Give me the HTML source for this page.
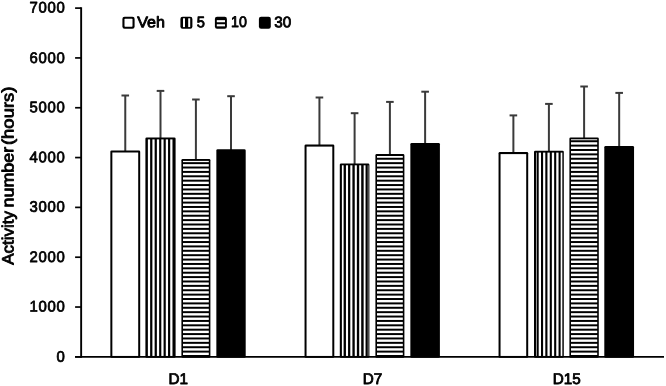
<!DOCTYPE html>
<html lang="en"><head><meta charset="utf-8"><title>Activity number (hours)</title>
<style>html,body{margin:0;padding:0;background:#fff}body{width:666px;height:386px;overflow:hidden}svg{display:block}text{text-rendering:geometricPrecision;font-family:"Liberation Sans",sans-serif;fill:#000}</style>
</head><body>
<svg width="666" height="386" viewBox="0 0 666 386">
<rect width="666" height="386" fill="#fff"/>
<line x1="75.1" y1="356.85" x2="81.15" y2="356.85" stroke="#000" stroke-width="1.7"/>
<text transform="translate(65.68,361.86) rotate(0.03) scale(0.975,1)" font-size="15.3" text-anchor="end" stroke="#000" stroke-width="0.75" stroke-linejoin="round" letter-spacing="0.8">0</text>
<line x1="75.1" y1="307.03" x2="81.15" y2="307.03" stroke="#000" stroke-width="1.7"/>
<text transform="translate(65.68,311.60) rotate(0.03) scale(0.975,1)" font-size="15.3" text-anchor="end" stroke="#000" stroke-width="0.75" stroke-linejoin="round" letter-spacing="0.8">1000</text>
<line x1="75.1" y1="257.21" x2="81.15" y2="257.21" stroke="#000" stroke-width="1.7"/>
<text transform="translate(65.68,261.91) rotate(0.03) scale(0.975,1)" font-size="15.3" text-anchor="end" stroke="#000" stroke-width="0.75" stroke-linejoin="round" letter-spacing="0.8">2000</text>
<line x1="75.1" y1="207.39" x2="81.15" y2="207.39" stroke="#000" stroke-width="1.7"/>
<text transform="translate(65.68,211.65) rotate(0.03) scale(0.975,1)" font-size="15.3" text-anchor="end" stroke="#000" stroke-width="0.75" stroke-linejoin="round" letter-spacing="0.8">3000</text>
<line x1="75.1" y1="157.57" x2="81.15" y2="157.57" stroke="#000" stroke-width="1.7"/>
<text transform="translate(65.68,162.27) rotate(0.03) scale(0.975,1)" font-size="15.3" text-anchor="end" stroke="#000" stroke-width="0.75" stroke-linejoin="round" letter-spacing="0.8">4000</text>
<line x1="75.1" y1="107.75" x2="81.15" y2="107.75" stroke="#000" stroke-width="1.7"/>
<text transform="translate(65.68,112.32) rotate(0.03) scale(0.975,1)" font-size="15.3" text-anchor="end" stroke="#000" stroke-width="0.75" stroke-linejoin="round" letter-spacing="0.8">5000</text>
<line x1="75.1" y1="57.93" x2="81.15" y2="57.93" stroke="#000" stroke-width="1.7"/>
<text transform="translate(65.68,62.94) rotate(0.03) scale(0.975,1)" font-size="15.3" text-anchor="end" stroke="#000" stroke-width="0.75" stroke-linejoin="round" letter-spacing="0.8">6000</text>
<line x1="75.1" y1="8.11" x2="81.15" y2="8.11" stroke="#000" stroke-width="1.7"/>
<text transform="translate(65.68,12.49) rotate(0.03) scale(0.975,1)" font-size="15.3" text-anchor="end" stroke="#000" stroke-width="0.75" stroke-linejoin="round" letter-spacing="0.8">7000</text>
<line x1="125.27" y1="95.50" x2="125.27" y2="151.40" stroke="#3a3a3a" stroke-width="2.0"/>
<line x1="121.47" y1="95.50" x2="129.07" y2="95.50" stroke="#3a3a3a" stroke-width="2.0"/>
<rect x="110.35" y="150.40" width="29.85" height="207.35" rx="1.3" fill="#000"/>
<rect x="112.35" y="152.50" width="25.85" height="203.45" fill="#fff"/>
<line x1="160.50" y1="90.90" x2="160.50" y2="138.50" stroke="#3a3a3a" stroke-width="2.0"/>
<line x1="156.70" y1="90.90" x2="164.30" y2="90.90" stroke="#3a3a3a" stroke-width="2.0"/>
<rect x="145.40" y="137.50" width="30.20" height="220.25" rx="1.3" fill="#000"/>
<rect x="147.88" y="139.40" width="2.25" height="216.55" fill="#fff"/>
<rect x="152.38" y="139.40" width="2.25" height="216.55" fill="#fff"/>
<rect x="156.88" y="139.40" width="2.25" height="216.55" fill="#fff"/>
<rect x="161.32" y="139.40" width="2.25" height="216.55" fill="#fff"/>
<rect x="165.78" y="139.40" width="2.25" height="216.55" fill="#fff"/>
<rect x="170.22" y="139.40" width="2.25" height="216.55" fill="#fff"/>
<line x1="195.90" y1="99.50" x2="195.90" y2="160.00" stroke="#3a3a3a" stroke-width="2.0"/>
<line x1="192.10" y1="99.50" x2="199.70" y2="99.50" stroke="#3a3a3a" stroke-width="2.0"/>
<rect x="181.40" y="159.00" width="29.00" height="198.75" rx="1.3" fill="#000"/>
<rect x="183.00" y="352.60" width="25.80" height="2.40" fill="#fff"/>
<rect x="183.00" y="348.22" width="25.80" height="2.40" fill="#fff"/>
<rect x="183.00" y="343.83" width="25.80" height="2.40" fill="#fff"/>
<rect x="183.00" y="339.45" width="25.80" height="2.40" fill="#fff"/>
<rect x="183.00" y="335.07" width="25.80" height="2.40" fill="#fff"/>
<rect x="183.00" y="330.69" width="25.80" height="2.40" fill="#fff"/>
<rect x="183.00" y="326.30" width="25.80" height="2.40" fill="#fff"/>
<rect x="183.00" y="321.92" width="25.80" height="2.40" fill="#fff"/>
<rect x="183.00" y="317.54" width="25.80" height="2.40" fill="#fff"/>
<rect x="183.00" y="313.15" width="25.80" height="2.40" fill="#fff"/>
<rect x="183.00" y="308.77" width="25.80" height="2.40" fill="#fff"/>
<rect x="183.00" y="304.39" width="25.80" height="2.40" fill="#fff"/>
<rect x="183.00" y="300.00" width="25.80" height="2.40" fill="#fff"/>
<rect x="183.00" y="295.62" width="25.80" height="2.40" fill="#fff"/>
<rect x="183.00" y="291.24" width="25.80" height="2.40" fill="#fff"/>
<rect x="183.00" y="286.86" width="25.80" height="2.40" fill="#fff"/>
<rect x="183.00" y="282.47" width="25.80" height="2.40" fill="#fff"/>
<rect x="183.00" y="278.09" width="25.80" height="2.40" fill="#fff"/>
<rect x="183.00" y="273.71" width="25.80" height="2.40" fill="#fff"/>
<rect x="183.00" y="269.32" width="25.80" height="2.40" fill="#fff"/>
<rect x="183.00" y="264.94" width="25.80" height="2.40" fill="#fff"/>
<rect x="183.00" y="260.56" width="25.80" height="2.40" fill="#fff"/>
<rect x="183.00" y="256.17" width="25.80" height="2.40" fill="#fff"/>
<rect x="183.00" y="251.79" width="25.80" height="2.40" fill="#fff"/>
<rect x="183.00" y="247.41" width="25.80" height="2.40" fill="#fff"/>
<rect x="183.00" y="243.03" width="25.80" height="2.40" fill="#fff"/>
<rect x="183.00" y="238.64" width="25.80" height="2.40" fill="#fff"/>
<rect x="183.00" y="234.26" width="25.80" height="2.40" fill="#fff"/>
<rect x="183.00" y="229.88" width="25.80" height="2.40" fill="#fff"/>
<rect x="183.00" y="225.49" width="25.80" height="2.40" fill="#fff"/>
<rect x="183.00" y="221.11" width="25.80" height="2.40" fill="#fff"/>
<rect x="183.00" y="216.73" width="25.80" height="2.40" fill="#fff"/>
<rect x="183.00" y="212.34" width="25.80" height="2.40" fill="#fff"/>
<rect x="183.00" y="207.96" width="25.80" height="2.40" fill="#fff"/>
<rect x="183.00" y="203.58" width="25.80" height="2.40" fill="#fff"/>
<rect x="183.00" y="199.20" width="25.80" height="2.40" fill="#fff"/>
<rect x="183.00" y="194.81" width="25.80" height="2.40" fill="#fff"/>
<rect x="183.00" y="190.43" width="25.80" height="2.40" fill="#fff"/>
<rect x="183.00" y="186.05" width="25.80" height="2.40" fill="#fff"/>
<rect x="183.00" y="181.66" width="25.80" height="2.40" fill="#fff"/>
<rect x="183.00" y="177.28" width="25.80" height="2.40" fill="#fff"/>
<rect x="183.00" y="172.90" width="25.80" height="2.40" fill="#fff"/>
<rect x="183.00" y="168.51" width="25.80" height="2.40" fill="#fff"/>
<rect x="183.00" y="164.13" width="25.80" height="2.40" fill="#fff"/>
<rect x="183.00" y="160.90" width="25.80" height="1.25" fill="#fff"/>
<line x1="231.02" y1="96.20" x2="231.02" y2="150.20" stroke="#3a3a3a" stroke-width="2.0"/>
<line x1="227.22" y1="96.20" x2="234.82" y2="96.20" stroke="#3a3a3a" stroke-width="2.0"/>
<rect x="216.35" y="149.20" width="29.35" height="208.55" rx="1.3" fill="#000"/>
<line x1="319.43" y1="97.50" x2="319.43" y2="145.50" stroke="#3a3a3a" stroke-width="2.0"/>
<line x1="315.62" y1="97.50" x2="323.23" y2="97.50" stroke="#3a3a3a" stroke-width="2.0"/>
<rect x="304.55" y="144.50" width="29.75" height="213.25" rx="1.3" fill="#000"/>
<rect x="306.55" y="146.60" width="25.75" height="209.35" fill="#fff"/>
<line x1="354.60" y1="113.20" x2="354.60" y2="164.40" stroke="#3a3a3a" stroke-width="2.0"/>
<line x1="350.80" y1="113.20" x2="358.40" y2="113.20" stroke="#3a3a3a" stroke-width="2.0"/>
<rect x="339.80" y="163.40" width="29.60" height="194.35" rx="1.3" fill="#000"/>
<rect x="341.90" y="165.30" width="1.70" height="190.65" fill="#fff"/>
<rect x="345.95" y="165.30" width="2.10" height="190.65" fill="#fff"/>
<rect x="350.30" y="165.30" width="2.10" height="190.65" fill="#fff"/>
<rect x="354.75" y="165.30" width="2.10" height="190.65" fill="#fff"/>
<rect x="359.20" y="165.30" width="2.00" height="190.65" fill="#fff"/>
<rect x="363.65" y="165.30" width="1.90" height="190.65" fill="#fff"/>
<rect x="367.80" y="165.30" width="0.50" height="190.65" fill="#fff"/>
<line x1="389.90" y1="101.90" x2="389.90" y2="155.10" stroke="#3a3a3a" stroke-width="2.0"/>
<line x1="386.10" y1="101.90" x2="393.70" y2="101.90" stroke="#3a3a3a" stroke-width="2.0"/>
<rect x="375.40" y="154.10" width="29.00" height="203.65" rx="1.3" fill="#000"/>
<rect x="377.00" y="352.60" width="25.80" height="2.40" fill="#fff"/>
<rect x="377.00" y="348.22" width="25.80" height="2.40" fill="#fff"/>
<rect x="377.00" y="343.83" width="25.80" height="2.40" fill="#fff"/>
<rect x="377.00" y="339.45" width="25.80" height="2.40" fill="#fff"/>
<rect x="377.00" y="335.07" width="25.80" height="2.40" fill="#fff"/>
<rect x="377.00" y="330.69" width="25.80" height="2.40" fill="#fff"/>
<rect x="377.00" y="326.30" width="25.80" height="2.40" fill="#fff"/>
<rect x="377.00" y="321.92" width="25.80" height="2.40" fill="#fff"/>
<rect x="377.00" y="317.54" width="25.80" height="2.40" fill="#fff"/>
<rect x="377.00" y="313.15" width="25.80" height="2.40" fill="#fff"/>
<rect x="377.00" y="308.77" width="25.80" height="2.40" fill="#fff"/>
<rect x="377.00" y="304.39" width="25.80" height="2.40" fill="#fff"/>
<rect x="377.00" y="300.00" width="25.80" height="2.40" fill="#fff"/>
<rect x="377.00" y="295.62" width="25.80" height="2.40" fill="#fff"/>
<rect x="377.00" y="291.24" width="25.80" height="2.40" fill="#fff"/>
<rect x="377.00" y="286.86" width="25.80" height="2.40" fill="#fff"/>
<rect x="377.00" y="282.47" width="25.80" height="2.40" fill="#fff"/>
<rect x="377.00" y="278.09" width="25.80" height="2.40" fill="#fff"/>
<rect x="377.00" y="273.71" width="25.80" height="2.40" fill="#fff"/>
<rect x="377.00" y="269.32" width="25.80" height="2.40" fill="#fff"/>
<rect x="377.00" y="264.94" width="25.80" height="2.40" fill="#fff"/>
<rect x="377.00" y="260.56" width="25.80" height="2.40" fill="#fff"/>
<rect x="377.00" y="256.17" width="25.80" height="2.40" fill="#fff"/>
<rect x="377.00" y="251.79" width="25.80" height="2.40" fill="#fff"/>
<rect x="377.00" y="247.41" width="25.80" height="2.40" fill="#fff"/>
<rect x="377.00" y="243.03" width="25.80" height="2.40" fill="#fff"/>
<rect x="377.00" y="238.64" width="25.80" height="2.40" fill="#fff"/>
<rect x="377.00" y="234.26" width="25.80" height="2.40" fill="#fff"/>
<rect x="377.00" y="229.88" width="25.80" height="2.40" fill="#fff"/>
<rect x="377.00" y="225.49" width="25.80" height="2.40" fill="#fff"/>
<rect x="377.00" y="221.11" width="25.80" height="2.40" fill="#fff"/>
<rect x="377.00" y="216.73" width="25.80" height="2.40" fill="#fff"/>
<rect x="377.00" y="212.34" width="25.80" height="2.40" fill="#fff"/>
<rect x="377.00" y="207.96" width="25.80" height="2.40" fill="#fff"/>
<rect x="377.00" y="203.58" width="25.80" height="2.40" fill="#fff"/>
<rect x="377.00" y="199.20" width="25.80" height="2.40" fill="#fff"/>
<rect x="377.00" y="194.81" width="25.80" height="2.40" fill="#fff"/>
<rect x="377.00" y="190.43" width="25.80" height="2.40" fill="#fff"/>
<rect x="377.00" y="186.05" width="25.80" height="2.40" fill="#fff"/>
<rect x="377.00" y="181.66" width="25.80" height="2.40" fill="#fff"/>
<rect x="377.00" y="177.28" width="25.80" height="2.40" fill="#fff"/>
<rect x="377.00" y="172.90" width="25.80" height="2.40" fill="#fff"/>
<rect x="377.00" y="168.51" width="25.80" height="2.40" fill="#fff"/>
<rect x="377.00" y="164.13" width="25.80" height="2.40" fill="#fff"/>
<rect x="377.00" y="159.75" width="25.80" height="2.40" fill="#fff"/>
<rect x="377.00" y="156.00" width="25.80" height="1.76" fill="#fff"/>
<line x1="425.12" y1="91.70" x2="425.12" y2="144.00" stroke="#3a3a3a" stroke-width="2.0"/>
<line x1="421.32" y1="91.70" x2="428.93" y2="91.70" stroke="#3a3a3a" stroke-width="2.0"/>
<rect x="410.35" y="143.00" width="29.55" height="214.75" rx="1.3" fill="#000"/>
<line x1="513.38" y1="115.40" x2="513.38" y2="153.00" stroke="#3a3a3a" stroke-width="2.0"/>
<line x1="509.57" y1="115.40" x2="517.17" y2="115.40" stroke="#3a3a3a" stroke-width="2.0"/>
<rect x="498.55" y="152.00" width="29.65" height="205.75" rx="1.3" fill="#000"/>
<rect x="500.55" y="154.10" width="25.65" height="201.85" fill="#fff"/>
<line x1="548.90" y1="103.90" x2="548.90" y2="151.70" stroke="#3a3a3a" stroke-width="2.0"/>
<line x1="545.10" y1="103.90" x2="552.70" y2="103.90" stroke="#3a3a3a" stroke-width="2.0"/>
<rect x="534.00" y="150.70" width="29.80" height="207.05" rx="1.3" fill="#000"/>
<rect x="536.05" y="152.60" width="0.60" height="203.35" fill="#fff"/>
<rect x="538.70" y="152.60" width="2.30" height="203.35" fill="#fff"/>
<rect x="543.10" y="152.60" width="2.20" height="203.35" fill="#fff"/>
<rect x="547.45" y="152.60" width="2.30" height="203.35" fill="#fff"/>
<rect x="551.85" y="152.60" width="2.30" height="203.35" fill="#fff"/>
<rect x="556.25" y="152.60" width="2.30" height="203.35" fill="#fff"/>
<rect x="560.65" y="152.60" width="1.70" height="203.35" fill="#fff"/>
<line x1="584.10" y1="86.50" x2="584.10" y2="138.40" stroke="#3a3a3a" stroke-width="2.0"/>
<line x1="580.30" y1="86.50" x2="587.90" y2="86.50" stroke="#3a3a3a" stroke-width="2.0"/>
<rect x="569.40" y="137.40" width="29.40" height="220.35" rx="1.3" fill="#000"/>
<rect x="571.00" y="352.60" width="26.20" height="2.40" fill="#fff"/>
<rect x="571.00" y="348.22" width="26.20" height="2.40" fill="#fff"/>
<rect x="571.00" y="343.83" width="26.20" height="2.40" fill="#fff"/>
<rect x="571.00" y="339.45" width="26.20" height="2.40" fill="#fff"/>
<rect x="571.00" y="335.07" width="26.20" height="2.40" fill="#fff"/>
<rect x="571.00" y="330.69" width="26.20" height="2.40" fill="#fff"/>
<rect x="571.00" y="326.30" width="26.20" height="2.40" fill="#fff"/>
<rect x="571.00" y="321.92" width="26.20" height="2.40" fill="#fff"/>
<rect x="571.00" y="317.54" width="26.20" height="2.40" fill="#fff"/>
<rect x="571.00" y="313.15" width="26.20" height="2.40" fill="#fff"/>
<rect x="571.00" y="308.77" width="26.20" height="2.40" fill="#fff"/>
<rect x="571.00" y="304.39" width="26.20" height="2.40" fill="#fff"/>
<rect x="571.00" y="300.00" width="26.20" height="2.40" fill="#fff"/>
<rect x="571.00" y="295.62" width="26.20" height="2.40" fill="#fff"/>
<rect x="571.00" y="291.24" width="26.20" height="2.40" fill="#fff"/>
<rect x="571.00" y="286.86" width="26.20" height="2.40" fill="#fff"/>
<rect x="571.00" y="282.47" width="26.20" height="2.40" fill="#fff"/>
<rect x="571.00" y="278.09" width="26.20" height="2.40" fill="#fff"/>
<rect x="571.00" y="273.71" width="26.20" height="2.40" fill="#fff"/>
<rect x="571.00" y="269.32" width="26.20" height="2.40" fill="#fff"/>
<rect x="571.00" y="264.94" width="26.20" height="2.40" fill="#fff"/>
<rect x="571.00" y="260.56" width="26.20" height="2.40" fill="#fff"/>
<rect x="571.00" y="256.17" width="26.20" height="2.40" fill="#fff"/>
<rect x="571.00" y="251.79" width="26.20" height="2.40" fill="#fff"/>
<rect x="571.00" y="247.41" width="26.20" height="2.40" fill="#fff"/>
<rect x="571.00" y="243.03" width="26.20" height="2.40" fill="#fff"/>
<rect x="571.00" y="238.64" width="26.20" height="2.40" fill="#fff"/>
<rect x="571.00" y="234.26" width="26.20" height="2.40" fill="#fff"/>
<rect x="571.00" y="229.88" width="26.20" height="2.40" fill="#fff"/>
<rect x="571.00" y="225.49" width="26.20" height="2.40" fill="#fff"/>
<rect x="571.00" y="221.11" width="26.20" height="2.40" fill="#fff"/>
<rect x="571.00" y="216.73" width="26.20" height="2.40" fill="#fff"/>
<rect x="571.00" y="212.34" width="26.20" height="2.40" fill="#fff"/>
<rect x="571.00" y="207.96" width="26.20" height="2.40" fill="#fff"/>
<rect x="571.00" y="203.58" width="26.20" height="2.40" fill="#fff"/>
<rect x="571.00" y="199.20" width="26.20" height="2.40" fill="#fff"/>
<rect x="571.00" y="194.81" width="26.20" height="2.40" fill="#fff"/>
<rect x="571.00" y="190.43" width="26.20" height="2.40" fill="#fff"/>
<rect x="571.00" y="186.05" width="26.20" height="2.40" fill="#fff"/>
<rect x="571.00" y="181.66" width="26.20" height="2.40" fill="#fff"/>
<rect x="571.00" y="177.28" width="26.20" height="2.40" fill="#fff"/>
<rect x="571.00" y="172.90" width="26.20" height="2.40" fill="#fff"/>
<rect x="571.00" y="168.51" width="26.20" height="2.40" fill="#fff"/>
<rect x="571.00" y="164.13" width="26.20" height="2.40" fill="#fff"/>
<rect x="571.00" y="159.75" width="26.20" height="2.40" fill="#fff"/>
<rect x="571.00" y="155.37" width="26.20" height="2.40" fill="#fff"/>
<rect x="571.00" y="150.98" width="26.20" height="2.40" fill="#fff"/>
<rect x="571.00" y="146.60" width="26.20" height="2.40" fill="#fff"/>
<rect x="571.00" y="142.22" width="26.20" height="2.40" fill="#fff"/>
<rect x="571.00" y="139.30" width="26.20" height="0.93" fill="#fff"/>
<line x1="619.17" y1="92.90" x2="619.17" y2="147.00" stroke="#3a3a3a" stroke-width="2.0"/>
<line x1="615.38" y1="92.90" x2="622.97" y2="92.90" stroke="#3a3a3a" stroke-width="2.0"/>
<rect x="604.30" y="146.00" width="29.75" height="211.75" rx="1.3" fill="#000"/>
<line x1="81.15" y1="7.25" x2="81.15" y2="357.75" stroke="#000" stroke-width="1.9"/>
<line x1="75.1" y1="356.85" x2="664" y2="356.85" stroke="#000" stroke-width="1.9"/>
<text transform="translate(178.25,383.95) rotate(0.03) scale(0.99,1)" font-size="15.4" text-anchor="middle" stroke="#000" stroke-width="0.85" stroke-linejoin="round">D1</text>
<text transform="translate(372.4,383.95) rotate(0.03) scale(0.99,1)" font-size="15.4" text-anchor="middle" stroke="#000" stroke-width="0.85" stroke-linejoin="round">D7</text>
<text transform="translate(566.7,383.95) rotate(0.03) scale(0.99,1)" font-size="15.4" text-anchor="middle" stroke="#000" stroke-width="0.85" stroke-linejoin="round">D15</text>
<text transform="translate(13.4,264.84) rotate(-90.03) scale(1.0371,1)" font-size="16.4" stroke="#000" stroke-width="0.85" stroke-linejoin="round">Activity</text>
<text transform="translate(13.4,207.42) rotate(-90.03) scale(1.0906,1)" font-size="16.4" stroke="#000" stroke-width="0.85" stroke-linejoin="round">number</text>
<text transform="translate(13.4,145.04) rotate(-90.03) scale(1.1256,1)" font-size="16.4" stroke="#000" stroke-width="0.85" stroke-linejoin="round">(hours)</text>
<rect x="122.40" y="16.7" width="12.20" height="12.10" rx="2.2" fill="#000"/>
<rect x="124.50" y="18.8" width="8.00" height="7.90" rx="0.6" fill="#fff"/>
<rect x="180.40" y="16.7" width="12.00" height="12.10" rx="2.2" fill="#000"/>
<rect x="183.00" y="18.3" width="2.0" height="8.8" fill="#fff"/>
<rect x="188.20" y="18.3" width="2.0" height="8.8" fill="#fff"/>
<rect x="214.90" y="16.7" width="12.00" height="12.10" rx="2.2" fill="#000"/>
<rect x="216.80" y="20.15" width="8.20" height="2.1" fill="#fff"/>
<rect x="216.80" y="24.25" width="8.20" height="2.1" fill="#fff"/>
<rect x="258.90" y="16.7" width="11.90" height="12.10" rx="2.2" fill="#000"/>
<text transform="translate(137.2,27.35) rotate(0.03) scale(1.05,1)" font-size="15.3" text-anchor="start" stroke="#000" stroke-width="0.85" stroke-linejoin="round">Veh</text>
<text transform="translate(196.7,27.35) rotate(0.03) scale(0.96,1)" font-size="15.3" text-anchor="start" stroke="#000" stroke-width="0.85" stroke-linejoin="round">5</text>
<text transform="translate(231.0,27.35) rotate(0.03) scale(0.93,1)" font-size="15.3" text-anchor="start" stroke="#000" stroke-width="0.85" stroke-linejoin="round">10</text>
<text transform="translate(274.2,27.35) rotate(0.03) scale(1.0,1)" font-size="15.3" text-anchor="start" stroke="#000" stroke-width="0.85" stroke-linejoin="round">30</text>
</svg></body></html>
